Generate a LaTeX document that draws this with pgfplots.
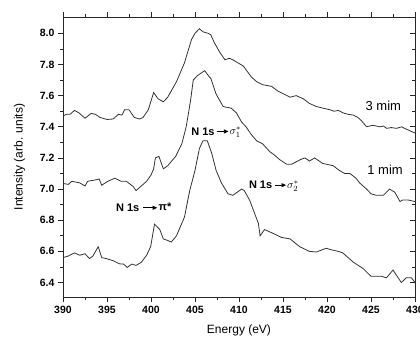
\documentclass[border=0pt]{standalone}
\usepackage{pgfplots}
\pgfplotsset{compat=1.18}
\usetikzlibrary{arrows.meta}
\usepackage{fontspec}
\setmainfont{Liberation Sans}
\pgfplotstableread{
x y
390 7.47
390.4 7.48
390.8 7.48
391.3 7.505
391.8 7.49
392.5 7.455
393.2 7.486
393.7 7.48
394.2 7.46
395.0 7.447
395.7 7.45
396.3 7.48
396.7 7.475
397.0 7.51
397.5 7.51
398.1 7.46
398.7 7.45
399.1 7.46
399.7 7.51
400.3 7.62
400.8 7.58
401.4 7.56
401.9 7.59
402.9 7.69
403.8 7.81
404.6 7.96
405.0 8.00
405.5 8.03
405.9 8.01
406.5 8.00
406.8 7.99
407.2 7.94
407.8 7.88
408.4 7.83
408.9 7.84
409.3 7.83
409.9 7.81
410.5 7.79
411.4 7.72
412.0 7.69
412.7 7.67
413.2 7.665
413.7 7.66
414.4 7.63
415.1 7.61
415.8 7.59
416.5 7.60
417.3 7.58
418.0 7.55
418.8 7.53
419.5 7.52
420.3 7.51
420.8 7.50
421.3 7.505
421.8 7.49
422.4 7.48
423.0 7.475
423.5 7.46
423.9 7.44
424.5 7.40
425.2 7.41
425.6 7.405
426.0 7.40
426.4 7.405
426.8 7.39
427.3 7.395
427.9 7.39
428.5 7.40
428.8 7.39
429.2 7.38
430 7.36
}\threemim
\pgfplotstableread{
x y
390 7.036
390.6 7.03
391.0 7.05
391.9 7.04
392.5 7.02
392.8 7.05
393.8 7.06
394.1 7.065
394.4 7.025
395.1 7.05
395.9 7.07
396.6 7.05
397.2 7.05
398.0 7.015
398.3 6.99
398.7 7.01
399.5 7.05
400.0 7.09
400.3 7.13
400.5 7.20
400.9 7.21
401.4 7.13
401.9 7.15
402.8 7.21
403.5 7.29
404.0 7.40
404.5 7.57
404.8 7.70
405.3 7.73
406.1 7.76
406.5 7.73
406.8 7.71
407.4 7.61
408.2 7.53
408.6 7.525
409.1 7.52
409.7 7.49
410.3 7.43
410.8 7.40
411.4 7.35
412.0 7.31
412.7 7.29
413.5 7.24
414.0 7.22
414.6 7.19
415.4 7.16
416.0 7.16
416.5 7.175
417.0 7.19
417.5 7.20
418.0 7.18
418.6 7.20
419.5 7.165
420.7 7.15
421.4 7.12
422.0 7.10
422.6 7.10
423.3 7.07
423.7 7.04
424.5 7.00
425.0 6.97
425.6 6.96
426.4 6.96
427.1 7.00
427.7 6.98
428.3 6.92
428.6 6.93
429.2 6.93
430 6.92
}\onemim
\pgfplotstableread{
x y
390 6.56
390.6 6.57
391.3 6.59
391.9 6.575
392.5 6.585
393.0 6.554
393.4 6.57
394.0 6.63
394.4 6.56
394.9 6.554
395.7 6.54
396.4 6.52
396.9 6.518
397.3 6.497
397.8 6.518
398.3 6.51
398.9 6.53
399.5 6.575
399.96 6.63
400.4 6.775
401.0 6.74
401.4 6.68
401.9 6.67
402.3 6.66
402.9 6.70
403.8 6.82
404.4 6.99
405.0 7.12
405.5 7.26
405.9 7.31
406.4 7.31
406.9 7.23
407.4 7.12
408.0 7.04
408.75 6.97
409.3 6.96
409.8 6.98
410.3 7.00
410.6 6.99
411.2 6.93
411.8 6.84
412.2 6.78
412.4 6.70
412.9 6.74
413.9 6.715
414.8 6.69
415.8 6.68
416.9 6.63
418.0 6.60
418.8 6.596
419.9 6.62
420.5 6.61
421.3 6.60
421.8 6.59
423.0 6.53
424.1 6.49
425.0 6.44
425.6 6.44
426.2 6.44
426.75 6.43
427.5 6.48
428.45 6.40
429.0 6.43
429.6 6.43
430 6.40
}\zeromim
\begin{document}
\begin{tikzpicture}
\pgfplotsset{
  common/.style={
    scale only axis, width=352pt, height=280pt,
    xmin=390, xmax=430, ymin=6.307, ymax=8.105,
    axis line style={line width=0.8pt, black!85},
    tick style={line width=0.7pt, black!85},
    major tick length=5pt, minor tick length=2.8pt,
    minor tick num=1,
    xtick={390,395,...,430},
    ytick={6.4,6.6,...,8.01},
  }
}
\begin{axis}[common,
    tick align=outside,
    xtick pos=both, ytick pos=left,
    /pgf/number format/assume math mode=true,
    tick label style={font=\fontsize{10.5}{12}\selectfont\bfseries},
    yticklabel style={/pgf/number format/fixed, /pgf/number format/fixed zerofill, /pgf/number format/precision=1},
    xticklabel style={/pgf/number format/fixed, yshift=-1pt},
    label style={font=\fontsize{12}{14}\selectfont},
    xlabel={Energy (eV)},
    ylabel={Intensity (arb. units)},
    ylabel style={yshift=8pt},
    xlabel style={yshift=-4pt},
    xticklabel pos=lower,
]
\addplot[line width=0.8pt, black!80, no marks] table[x=x,y=y] {\threemim};
\addplot[line width=0.8pt, black!80, no marks] table[x=x,y=y] {\onemim};
\addplot[line width=0.8pt, black!80, no marks] table[x=x,y=y] {\zeromim};
\node[font=\fontsize{13}{15}\selectfont] at (axis cs:426.4,7.533) {3 mim};
\node[font=\fontsize{13}{15}\selectfont] at (axis cs:426.6,7.126) {1 mim};
% annotations
\node[font=\fontsize{11}{13}\selectfont\bfseries, anchor=east, inner sep=0pt] at (axis cs:398.7,6.88) {N 1s};
\draw[line width=0.7pt, -{Triangle[length=4.5pt,width=4pt]}] (axis cs:399.1,6.88) -- (axis cs:400.7,6.88);
\node[font=\fontsize{11}{13}\selectfont\bfseries, anchor=west, inner sep=0pt] at (axis cs:400.85,6.885) {π*};
\node[font=\fontsize{11}{13}\selectfont\bfseries, anchor=east, inner sep=0pt] at (axis cs:407.25,7.37) {N 1s};
\draw[line width=0.7pt, -{Triangle[length=4.5pt,width=4pt]}] (axis cs:407.55,7.37) -- (axis cs:408.8,7.37);
\node[font=\fontsize{11}{13}\selectfont, anchor=west, inner sep=0pt] at (axis cs:408.9,7.365) {$\sigma_{1}^{*}$};
\node[font=\fontsize{11}{13}\selectfont\bfseries, anchor=east, inner sep=0pt] at (axis cs:413.8,7.025) {N 1s};
\draw[line width=0.7pt, -{Triangle[length=4.5pt,width=4pt]}] (axis cs:414.1,7.025) -- (axis cs:415.35,7.025);
\node[font=\fontsize{11}{13}\selectfont, anchor=west, inner sep=0pt] at (axis cs:415.45,7.02) {$\sigma_{2}^{*}$};
\end{axis}
\begin{axis}[common,
    tick align=inside,
    axis x line=none,
    axis y line*=right,
    yticklabels={},
]
\end{axis}
\pgfresetboundingbox
\path[use as bounding box] (-63pt,-43pt) rectangle (357pt,297pt);
\end{tikzpicture}
\end{document}
